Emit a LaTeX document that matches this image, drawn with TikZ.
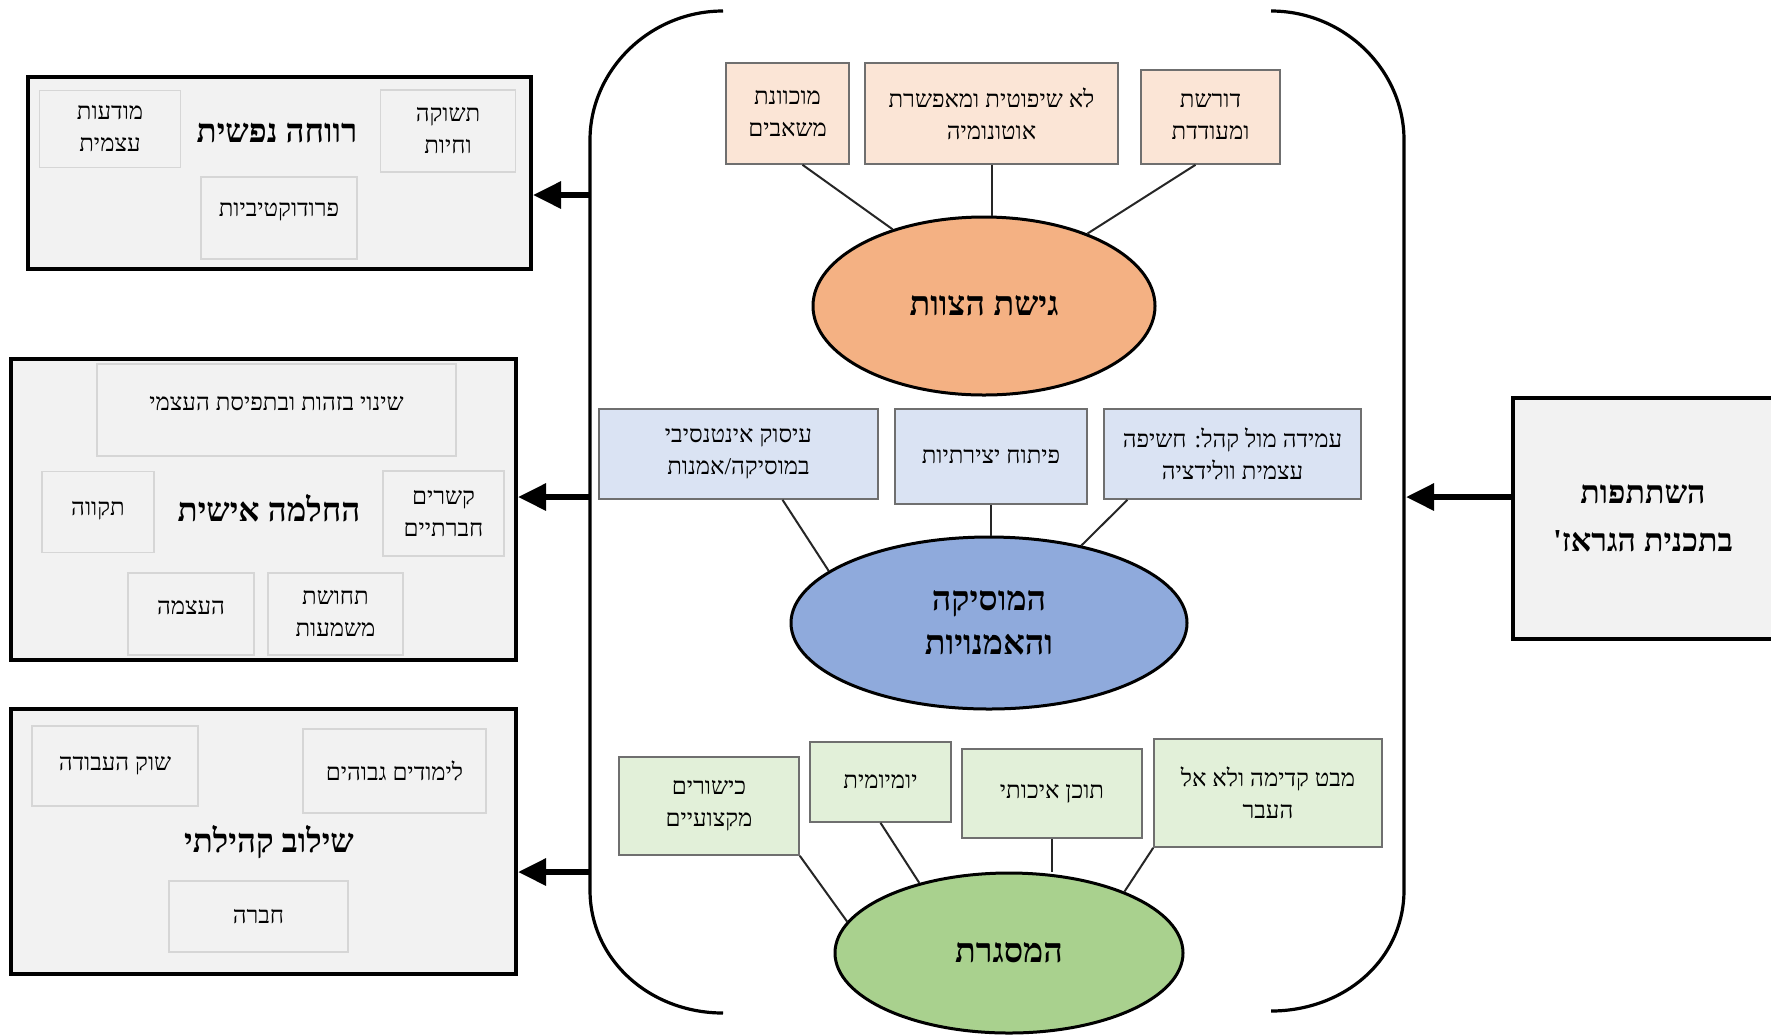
\documentclass[tikz,border=0pt]{standalone}
\usepackage{fontspec}
\setmainfont{Liberation Serif}
\newfontfamily\hebfont[Script=Hebrew]{Liberation Serif}
\TeXXeTstate=1
\usetikzlibrary{shapes.geometric,arrows.meta}
\newcommand{\heb}[1]{{\hebfont\beginR #1\endR}}
\definecolor{peachfill}{HTML}{FBE5D6}
\definecolor{orangeell}{HTML}{F4B183}
\definecolor{bluefill}{HTML}{DAE3F3}
\definecolor{blueell}{HTML}{8FAADC}
\definecolor{greenfill}{HTML}{E2F0D9}
\definecolor{greenell}{HTML}{A9D18E}
\definecolor{panelfill}{HTML}{F2F2F2}
\definecolor{innerline}{HTML}{D6D6D6}
\definecolor{boxline}{HTML}{6F6F6F}
\tikzset{
  sbox/.style={draw=boxline, line width=0.8pt, inner sep=0pt, align=center, font=\fontsize{12}{16}\selectfont},
  pbox/.style={sbox, fill=peachfill},
  bbox/.style={sbox, fill=bluefill},
  gbox/.style={sbox, fill=greenfill},
  ibox/.style={draw=innerline, line width=0.6pt, fill=panelfill, inner sep=0pt, align=center, font=\fontsize{12}{16}\selectfont},
  panelbox/.style={draw=black, line width=2pt, fill=panelfill, inner sep=0pt},
  ptitle/.style={inner sep=0pt, font=\bfseries\fontsize{16.5}{20}\selectfont},
  ellnode/.style={ellipse, draw=black, line width=1.5pt, inner sep=0pt, align=center, font=\bfseries\fontsize{17}{22}\selectfont},
  link/.style={line width=1pt, draw=black!85},
  bigarrow/.style={line width=3pt, -{Triangle[length=14pt,width=13pt]}},
  bracketline/.style={line width=1.6pt},
}
\begin{document}
\begin{tikzpicture}[x=0.5pt,y=-0.5pt]
\clip (0,0) rectangle (1771,1035);
\fill[white] (0,0) rectangle (1771,1035);

% ---------- left panels ----------
\node[panelbox, minimum width=251.5pt, minimum height=96pt] (p1) at (279.5,173) {};
\node[ibox, minimum width=70.5pt, minimum height=38.5pt] (p1a) at (110,129) {\heb{מודעות}\\\heb{עצמית}};
\node[ibox, minimum width=67.5pt, minimum height=41pt] (p1b) at (448,131) {\heb{תשוקה}\\\heb{וחיות}};
\node[ibox, minimum width=78pt, minimum height=41pt, text depth=9pt] (p1c) at (279,218) {\heb{פרודוקטיביות}};
\node[ptitle] (p1t) at (277,133) {\heb{רווחה נפשית}};

\node[panelbox, minimum width=252.5pt, minimum height=150.5pt] (p2) at (263.5,509.5) {};
\node[ibox, minimum width=179.5pt, minimum height=46pt, text depth=7pt] (p2a) at (276.5,410) {\heb{שינוי בזהות ובתפיסת העצמי}};
\node[ibox, minimum width=56pt, minimum height=40.5pt, text depth=4pt] (p2b) at (98,512) {\heb{תקווה}};
\node[ibox, minimum width=60.5pt, minimum height=42.5pt] (p2c) at (443.5,513.5) {\heb{קשרים}\\\heb{חברתיים}};
\node[ptitle] (p2t) at (269,508) {\heb{החלמה אישית}};
\node[ibox, minimum width=63pt, minimum height=41pt, text depth=7pt] (p2d) at (191,614) {\heb{העצמה}};
\node[ibox, minimum width=67.5pt, minimum height=41pt] (p2e) at (335.5,614) {\heb{תחושת}\\\heb{משמעות}};

\node[panelbox, minimum width=252.5pt, minimum height=132.5pt] (p3) at (263.5,841.5) {};
\node[ibox, minimum width=83pt, minimum height=40pt] (p3a) at (115,766) {\heb{שוק העבודה}};
\node[ibox, minimum width=91.5pt, minimum height=42pt] (p3b) at (394.5,771) {\heb{לימודים גבוהים}};
\node[ptitle] (p3t) at (269,842) {\heb{שילוב קהילתי}};
\node[ibox, minimum width=89.5pt, minimum height=35.5pt] (p3c) at (258.5,916.5) {\heb{חברה}};

% ---------- bracket ----------
\draw[bracketline] (723,11) .. controls (650,11) and (590,70) .. (590,140)
  -- (590,890) .. controls (590,960) and (650,1013) .. (723,1013);
\draw[bracketline] (1271,11) .. controls (1344,11) and (1404,70) .. (1404,140)
  -- (1404,890) .. controls (1404,960) and (1344,1011) .. (1271,1011);
\coordinate (bl1) at (590,195);
\coordinate (bl2) at (590,497);
\coordinate (bl3) at (590,872);
\coordinate (br) at (1406,497);
\draw[bigarrow] (bl1) -- (bl1 -| p1.east);
\draw[bigarrow] (bl2) -- (bl2 -| p2.east);
\draw[bigarrow] (bl3) -- (bl3 -| p3.east);

% ---------- right box ----------
\node[panelbox, minimum width=130pt, minimum height=120.5pt, align=center,
  font=\bfseries\fontsize{16}{24}\selectfont] (rb) at (1643,518.5)
  {\heb{השתתפות}\\\heb{בתכנית הגראז'}};
\draw[bigarrow] (br -| rb.west) -- (br);

% ---------- top group ----------
\node[pbox, minimum width=61.5pt, minimum height=50.5pt] (t1) at (787.5,113.5) {\heb{מוכוונת}\\\heb{משאבים}};
\node[pbox, minimum width=126.5pt, minimum height=50.5pt] (t2) at (991.5,113.5) {\heb{לא שיפוטית ומאפשרת}\\\heb{אוטונומיה}};
\node[pbox, minimum width=69.5pt, minimum height=47pt] (t3) at (1210.5,117) {\heb{דורשת}\\\heb{ומעודדת}};
\node[ellnode, fill=orangeell, minimum width=171pt, minimum height=89pt] (e1) at (984,306) {\heb{גישת הצוות}};
\draw[link] ([xshift=7.5pt]t1.south) -- (e1.140);
\draw[link] (t2.south) -- (t2.south |- e1.north);
\draw[link] ([xshift=-7.5pt]t3.south) -- (e1.35);

% ---------- middle group ----------
\node[bbox, minimum width=139.5pt, minimum height=45pt] (m1) at (738.5,454) {\heb{עיסוק אינטנסיבי}\\\heb{במוסיקה/אמנות}};
\node[bbox, minimum width=96pt, minimum height=47.5pt] (m2) at (991,456.5) {\heb{פיתוח יצירתיות}};
\node[bbox, minimum width=128.5pt, minimum height=45pt] (m3) at (1232.5,454) {\heb{עמידה מול קהל: חשיפה}\\\heb{עצמית וולידציה}};
\node[ellnode, fill=blueell, minimum width=198pt, minimum height=86pt] (e2) at (989,623) {\heb{המוסיקה}\\\heb{והאמנויות}};
\draw[link] ([xshift=22pt]m1.south) -- (e2.162);
\draw[link] (m2.south) -- (m2.south |- e2.north);
\draw[link] ([xshift=-52.5pt]m3.south) -- (e2.40);

% ---------- bottom group ----------
\node[gbox, minimum width=90pt, minimum height=49pt] (k1) at (709,806) {\heb{כישורים}\\\heb{מקצועיים}};
\node[gbox, minimum width=70.5pt, minimum height=40pt] (k2) at (880.5,782) {\heb{יומיומית}};
\node[gbox, minimum width=90pt, minimum height=44.5pt] (k3) at (1052,793.5) {\heb{תוכן איכותי}};
\node[gbox, minimum width=114pt, minimum height=54pt] (k4) at (1268,793) {\heb{מבט קדימה ולא אל}\\\heb{העבר}};
\node[ellnode, fill=greenell, minimum width=174pt, minimum height=80pt] (e3) at (1009,953) {\heb{המסגרת}};
\draw[link] (k1.south east) -- (e3.169);
\draw[link] (k2.south) -- (e3.142);
\draw[link] (k3.south) -- (k3.south |- e3.north);
\draw[link] (k4.south west) -- (e3.28);
\end{tikzpicture}
\end{document}
